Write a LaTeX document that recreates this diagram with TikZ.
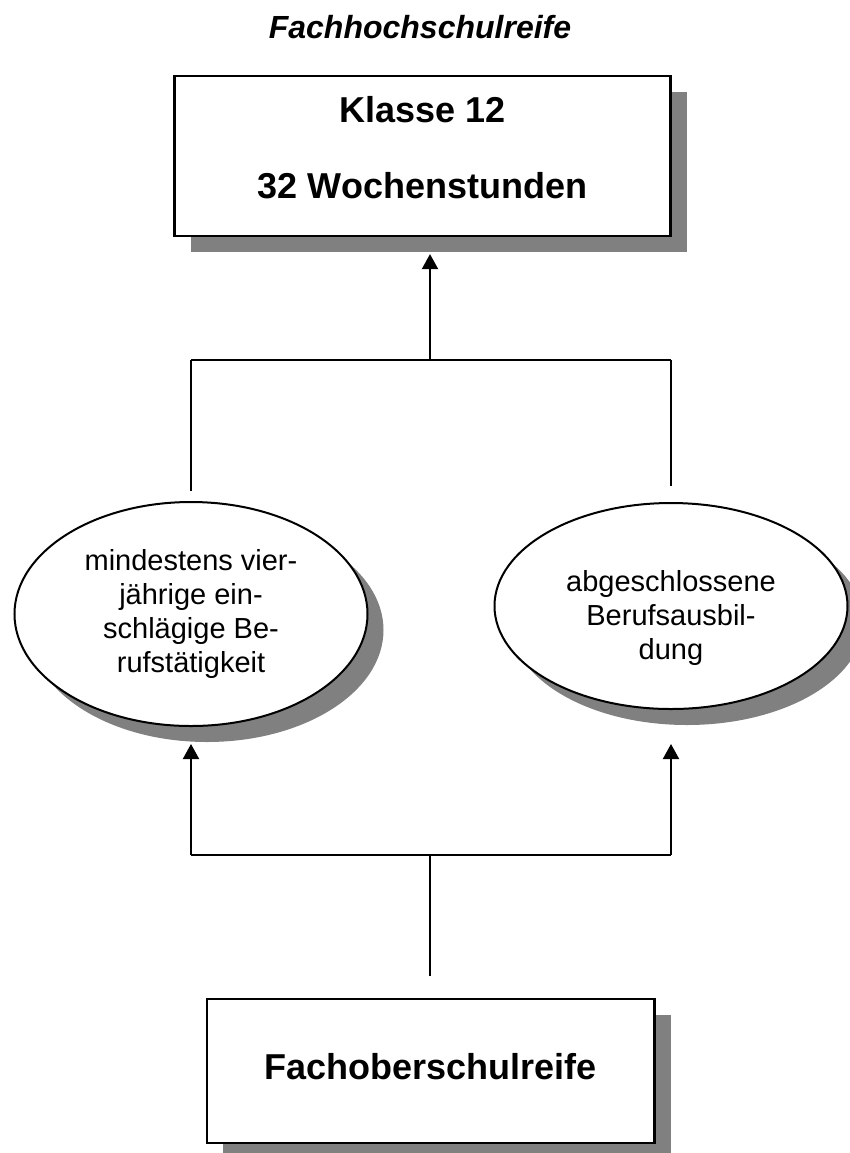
\documentclass[tikz,border=0pt]{standalone}
\usepackage{fontspec}
\setmainfont{Liberation Sans}
\usetikzlibrary{arrows.meta,shadows,shapes.geometric}
\definecolor{shadowgray}{RGB}{128,128,128}
\begin{document}
\begin{tikzpicture}[x=0.5pt,y=-0.5pt,
  castshadow/.style={drop shadow={shadow xshift=8pt,shadow yshift=-8pt,fill=shadowgray,opacity=1}},
  stagebox/.style={draw,fill=white,rectangle,line width=1.1pt,inner sep=0pt,castshadow},
  pathoval/.style={draw,fill=white,ellipse,line width=1pt,inner sep=0pt,castshadow},
  boxtext/.style={font=\fontsize{18}{38}\selectfont\bfseries,align=center,inner sep=0pt},
  ovaltext/.style={font=\fontsize{14.5}{17}\selectfont,align=center,inner sep=0pt},
  link/.style={line width=1pt},
  uparrow/.style={link,-{Triangle[width=8pt,length=7.5pt]}}
]
\useasboundingbox (0,0) rectangle (850,1153);

% heading
\node[font=\fontsize{16}{19}\selectfont\bfseries\itshape,inner sep=0pt] (title) at (420,27) {Fachhochschulreife};

% target class
\node[stagebox,minimum width=248pt,minimum height=80pt,
  label={[boxtext,yshift=4pt,name=k12text]center:{Klasse 12\\32 Wochenstunden}}]
  (k12) at (422.5,156) {};

% two admission routes
\node[pathoval,minimum width=176.5pt,minimum height=112pt,
  label={[ovaltext,name=worktext]center:{mindestens vier-\\jährige ein-\\schlägige Be-\\rufstätigkeit}}]
  (work) at (191,614) {};
\node[pathoval,minimum width=176.5pt,minimum height=103pt,
  label={[ovaltext,yshift=-6pt,name=trainingtext]center:{abgeschlossene\\Berufsausbil-\\dung}}]
  (training) at (671,606) {};

% entry qualification
\node[stagebox,minimum width=223.75pt,minimum height=72pt,
  label={[boxtext,yshift=2pt,name=fostext]center:{Fachoberschulreife}}]
  (fos) at (430.75,1071) {};

% bracket joints
\coordinate (upL) at (191,360);
\coordinate (upJ) at (430,360);
\coordinate (upR) at (671,360);
\coordinate (loL) at (191,855);
\coordinate (loJ) at (430,855);
\coordinate (loR) at (671,855);

% upper bracket into class 12
\draw[link] (upL) -- (upR);
\draw[link,shorten >=5pt] (upL) -- (work.north);
\draw[link,shorten >=8pt] (upR) -- (training.north);
\draw[uparrow,shorten >=8.5pt] (upJ) -- (upJ |- k12.south);

% lower bracket from the entry qualification
\draw[link] (loL) -- (loR);
\draw[link,shorten <=11pt] (loJ |- fos.north) -- (loJ);
\draw[uparrow,shorten >=8.5pt] (loL) -- (work.south);
\draw[uparrow,shorten >=17pt] (loR) -- (training.south);
\end{tikzpicture}
\end{document}
